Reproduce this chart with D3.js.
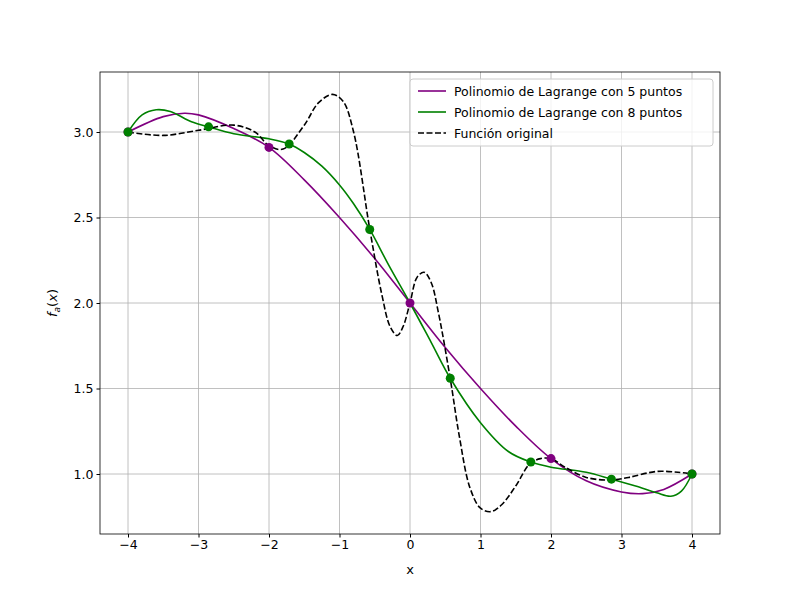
<!DOCTYPE html><html><head><script src="https://cdn.jsdelivr.net/npm/d3@7"></script>
<style>body{margin:0;background:#fff}text{font-family:"DejaVu Sans",sans-serif}</style></head><body>
<svg id="c" width="800" height="600"></svg>
<script>
const origX=[-4,-3.5,-3,-2.5,-2.2,-2,-1.8,-1.5,-1.3,-1.1,-0.95,-0.8,-0.57,-0.4,-0.28,-0.18,-0.1,0,0.1,0.2,0.3,0.4,0.57,0.7,0.85,1.0,1.15,1.3,1.5,1.7,1.85,2.0,2.2,2.5,2.85,3.1,3.5,3.8,4];
const origY=[3.0,2.98,3.01,3.04,3.0,2.92,2.9,3.04,3.17,3.22,3.18,3.0,2.43,2.05,1.86,1.81,1.86,2.0,2.15,2.18,2.12,1.95,1.56,1.22,0.92,0.8,0.78,0.82,0.93,1.06,1.09,1.09,1.04,0.98,0.965,0.98,1.015,1.01,1.0];
const p5X=[-4,-3.5,-3.2,-3,-2.5,-2,-1.5,-1,-0.5,0,0.5,1,1.5,2,2.5,3,3.3,3.6,4];
const p5Y=[3.0,3.09,3.11,3.1,3.02,2.91,2.72,2.5,2.26,2.0,1.74,1.5,1.28,1.09,0.96,0.895,0.885,0.91,1.0];
const p8X=[-4,-3.8,-3.6,-3.4,-3.1,-2.857,-2.5,-2,-1.714,-1.5,-1.25,-1,-0.8,-0.571,-0.3,0,0.3,0.571,1,1.4,1.714,2,2.5,2.857,3.2,3.5,3.7,3.85,4];
const p8Y=[3.0,3.1,3.13,3.12,3.06,3.03,2.99,2.96,2.93,2.88,2.8,2.69,2.58,2.43,2.22,2.0,1.77,1.56,1.3,1.13,1.07,1.04,1.01,0.97,0.93,0.89,0.87,0.9,1.0];
const n5X=[-4,-2,0,2,4], n5Y=[3.0,2.91,2.0,1.09,1.0];
const n8X=[-4,-2.857,-1.714,-0.571,0.571,1.714,2.857,4], n8Y=[3.0,3.03,2.93,2.43,1.56,1.07,0.97,1.0];
const xTicks=[-4,-3,-2,-1,0,1,2,3,4], yTicks=[1.0,1.5,2.0,2.5,3.0];
const L=100,R=720,T=72,B=534;
const x=d3.scaleLinear().domain([-4,4]).range([128,692]);
const y=d3.scaleLinear().domain([1,3]).range([474,132]);
const svg=d3.select("#c");
svg.append("g").selectAll("line").data(xTicks).join("line").attr("x1",d=>x(d)).attr("x2",d=>x(d)).attr("y1",T).attr("y2",B).attr("stroke","#b0b0b0").attr("stroke-width",0.8);
svg.append("g").selectAll("line").data(yTicks).join("line").attr("y1",d=>y(d)).attr("y2",d=>y(d)).attr("x1",L).attr("x2",R).attr("stroke","#b0b0b0").attr("stroke-width",0.8);
const ln=(X,Y)=>d3.line().x(i=>x(X[i])).y(i=>y(Y[i])).curve(d3.curveCatmullRom)(d3.range(X.length));
const g=svg.append("g");
g.append("path").attr("d",ln(p5X,p5Y)).attr("fill","none").attr("stroke","#800080").attr("stroke-width",1.6);
g.append("path").attr("d",ln(p8X,p8Y)).attr("fill","none").attr("stroke","#008000").attr("stroke-width",1.6);
g.append("path").attr("d",ln(origX,origY)).attr("fill","none").attr("stroke","#000").attr("stroke-width",1.6).attr("stroke-dasharray","6,2.5");
g.selectAll(".a").data(n5X).join("circle").attr("cx",d=>x(d)).attr("cy",(d,i)=>y(n5Y[i])).attr("r",4.5).attr("fill","#800080");
g.selectAll(".b").data(n8X).join("circle").attr("cx",d=>x(d)).attr("cy",(d,i)=>y(n8Y[i])).attr("r",4.5).attr("fill","#008000");
svg.append("g").attr("transform",`translate(0,${B})`).call(d3.axisBottom(x).tickValues(xTicks).tickSize(3.5).tickFormat(d3.format("d"))).call(a=>{a.select(".domain").remove();a.selectAll("text").attr("font-size",12.5).attr("fill","#000");});
svg.append("g").attr("transform",`translate(${L},0)`).call(d3.axisLeft(y).tickValues(yTicks).tickSize(3.5).tickFormat(d3.format(".1f"))).call(a=>{a.select(".domain").remove();a.selectAll("text").attr("font-size",12.5).attr("fill","#000");});
svg.append("rect").attr("x",L).attr("y",T).attr("width",R-L).attr("height",B-T).attr("fill","none").attr("stroke","#000").attr("stroke-width",0.8);
svg.append("text").attr("x",410).attr("y",574).attr("text-anchor","middle").attr("font-size",13).text("x");
const yl=svg.append("text").attr("transform","translate(57,303) rotate(-90)").attr("text-anchor","middle").attr("font-size",13);
yl.append("tspan").attr("font-style","italic").text("f");yl.append("tspan").attr("font-size",9).attr("dy",3).attr("font-style","italic").text("a");yl.append("tspan").attr("dy",-3).text("(");yl.append("tspan").attr("font-style","italic").text("x");yl.append("tspan").text(")");
const leg=svg.append("g");
leg.append("rect").attr("x",410).attr("y",79).attr("width",303).attr("height",67).attr("rx",3).attr("fill","#fff").attr("fill-opacity",0.8).attr("stroke","#ccc");
[["Polinomio de Lagrange con 5 puntos","#800080",null],["Polinomio de Lagrange con 8 puntos","#008000",null],["Función original","#000","6,2.5"]].forEach((e,i)=>{const yy=91+i*21;
leg.append("line").attr("x1",418).attr("x2",446).attr("y1",yy).attr("y2",yy).attr("stroke",e[1]).attr("stroke-width",1.6).attr("stroke-dasharray",e[2]);
leg.append("text").attr("x",454).attr("y",yy+4.5).attr("font-size",12.5).text(e[0]);});
</script></body></html>
